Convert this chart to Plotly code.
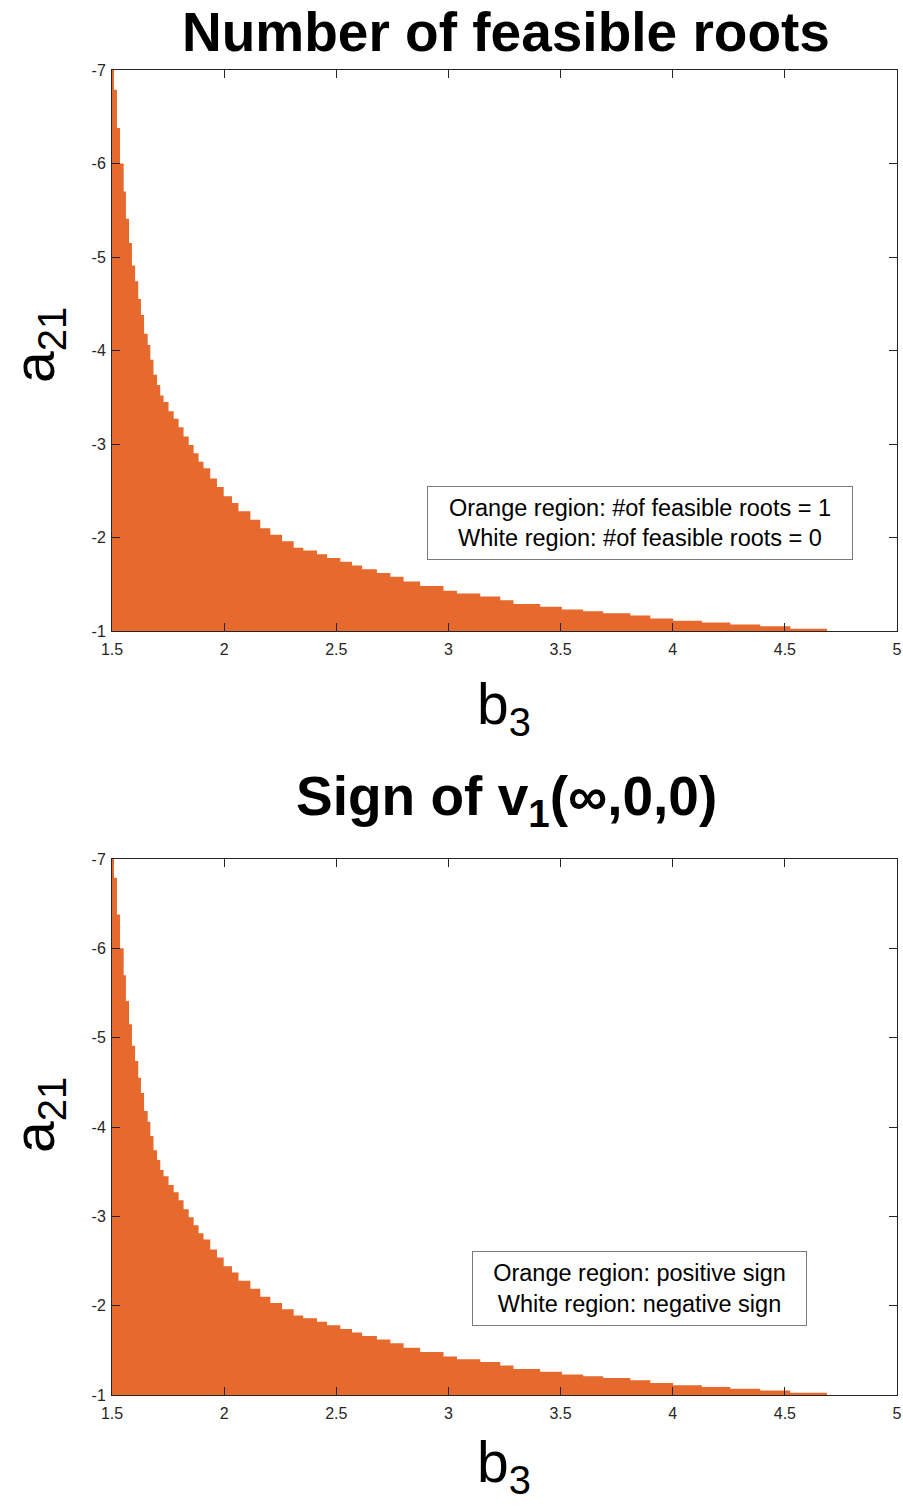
import plotly.graph_objects as go

# ---- data (boundary of the orange region) ----
# b3 value where each step of the staircase starts, and a21 level of that step
b3_steps = [1.500, 1.509, 1.522, 1.536, 1.552, 1.562, 1.576, 1.589, 1.603, 1.617,
            1.629, 1.643, 1.659, 1.671, 1.685, 1.701, 1.715, 1.730, 1.752, 1.775,
            1.797, 1.819, 1.842, 1.864, 1.886, 1.908, 1.938, 1.968, 1.998, 2.035,
            2.064, 2.117, 2.161, 2.206, 2.258, 2.310, 2.353, 2.414, 2.459, 2.518,
            2.570, 2.615, 2.681, 2.741, 2.800, 2.874, 2.978, 3.038, 3.142, 3.231,
            3.290, 3.409, 3.506, 3.601, 3.690, 3.811, 3.900, 4.002, 4.130, 4.257,
            4.390, 4.524, 4.688]
a21_steps = [-7.00, -6.79, -6.38, -6.00, -5.70, -5.41, -5.15, -4.91, -4.74, -4.55,
             -4.38, -4.18, -4.06, -3.90, -3.74, -3.63, -3.52, -3.45, -3.35, -3.27,
             -3.18, -3.08, -2.99, -2.90, -2.81, -2.74, -2.63, -2.54, -2.44, -2.37,
             -2.28, -2.19, -2.10, -2.03, -1.96, -1.89, -1.86, -1.82, -1.78, -1.74,
             -1.70, -1.66, -1.62, -1.58, -1.53, -1.48, -1.43, -1.40, -1.37, -1.33,
             -1.29, -1.26, -1.23, -1.21, -1.19, -1.165, -1.135, -1.11, -1.09, -1.07,
             -1.05, -1.025, -1.00]

x_ticks = [1.5, 2, 2.5, 3, 3.5, 4, 4.5, 5]
x_tick_labels = ["1.5", "2", "2.5", "3", "3.5", "4", "4.5", "5"]
y_ticks = [-7, -6, -5, -4, -3, -2, -1]
y_tick_labels = ["-7", "-6", "-5", "-4", "-3", "-2", "-1"]

titles = ["Number of feasible roots", "Sign of v<sub>1</sub>(\u221e,0,0)"]
legend_texts = [
    "Orange region: #of feasible roots = 1<br>White region: #of feasible roots = 0",
    "Orange region: positive sign<br>White region: negative sign",
]

# ---- layout geometry (pixels) ----
W, H = 903, 1506
ORANGE = "#E6692E"
AX = "#262626"
NARROW = "Liberation Sans Narrow, Arial Narrow, Liberation Sans, Arial"
SANS = "Liberation Sans, Helvetica, Arial"


def px_x(x):
    return x / W


def px_y(y):
    return 1 - y / H


panels = [
    dict(left=112, right=897, top=70, bottom=631, title_y=32, xlabel_y=708, ylabel_x=0,
         ylabel_y=345, box=(427, 853, 486, 560)),
    dict(left=112, right=897, top=859, bottom=1395, title_y=800, xlabel_y=1466, ylabel_x=0,
         ylabel_y=1115, box=(472, 807, 1251, 1326)),
]

fig = go.Figure()
annotations = []
for i, p in enumerate(panels):
    xa = "x" if i == 0 else "x2"
    ya = "y" if i == 0 else "y2"
    fig.add_trace(go.Scatter(
        x=b3_steps, y=a21_steps, mode="lines", line=dict(shape="hv", width=0, color=ORANGE),
        fill="tozeroy", fillcolor=ORANGE, xaxis=xa, yaxis=ya, showlegend=False,
        hoverinfo="skip"))

    axis_common = dict(showline=True, linecolor=AX, linewidth=1, mirror="ticks",
                       ticks="inside", ticklen=8, tickcolor=AX, tickwidth=1,
                       showgrid=False, zeroline=False,
                       tickfont=dict(family=NARROW, size=16, color=AX))
    xkey = "xaxis" if i == 0 else "xaxis2"
    ykey = "yaxis" if i == 0 else "yaxis2"
    fig.update_layout(**{
        xkey: dict(domain=[px_x(p["left"]), px_x(p["right"])], range=[1.5, 5],
                   tickmode="array", tickvals=x_ticks, ticktext=x_tick_labels,
                   ticklabelstandoff=4, anchor=ya, **axis_common),
        ykey: dict(domain=[px_y(p["bottom"]), px_y(p["top"])], range=[-1, -7],
                   tickmode="array", tickvals=y_ticks, ticktext=y_tick_labels,
                   ticklabelstandoff=2, anchor=xa, **axis_common),
    })

    annotations.append(dict(text="<b>" + titles[i] + "</b>", x=px_x(506), y=px_y(p["title_y"]),
                            xref="paper", yref="paper", showarrow=False, xanchor="center",
                            yanchor="middle", font=dict(family=SANS, size=55, color="black")))
    annotations.append(dict(text="b<sub>3</sub>", x=px_x(504), y=px_y(p["xlabel_y"]),
                            xref="paper", yref="paper", showarrow=False, xanchor="center",
                            yanchor="middle", font=dict(family=SANS, size=57, color="black")))
    annotations.append(dict(text="a<sub>21</sub>", x=px_x(p["ylabel_x"]),
                            y=px_y(p["ylabel_y"]),
                            xref="paper", yref="paper", showarrow=False, xanchor="left",
                            yanchor="middle", textangle=-90,
                            font=dict(family=SANS, size=57, color="black")))
    bl, br, bt, bb = p["box"]
    annotations.append(dict(text=legend_texts[i], x=px_x((bl + br) / 2), y=px_y((bt + bb) / 2),
                            xref="paper", yref="paper", showarrow=False, xanchor="center",
                            yanchor="middle", align="center", width=br - bl - 2,
                            height=bb - bt - 2, borderpad=0, bgcolor="white",
                            bordercolor="#7a7a7a", borderwidth=1,
                            font=dict(family=SANS, size=23.5, color="black")))

fig.update_layout(width=W, height=H, margin=dict(l=0, r=0, t=0, b=0, autoexpand=False),
                  paper_bgcolor="white", plot_bgcolor="white", annotations=annotations)

fig.write_html("out.html", config={"displayModeBar": False},
               post_script="document.body.style.margin='0px';document.body.style.overflow='hidden';")
